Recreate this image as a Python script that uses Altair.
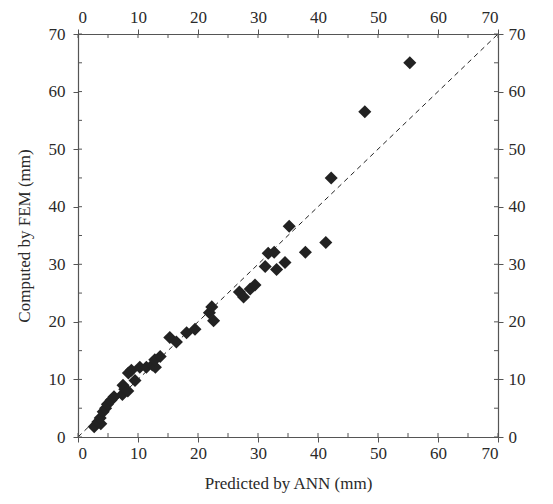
import altair as alt
import pandas as pd

# Predicted by ANN (x) and Computed by FEM (y), in mm
ann = [2.7, 3.3, 3.8, 3.7, 4.2, 4.6, 4.9, 5.5, 6.0, 7.4, 7.8, 7.5, 8.3,
       8.4, 8.9, 9.5, 10.3, 11.4, 12.4, 12.9, 12.8, 13.7,
       15.3, 16.4, 18.1, 19.5, 21.9, 22.3, 22.6, 26.9, 27.6, 28.7, 29.5,
       31.2, 31.7, 32.7, 33.1, 34.5, 35.2, 37.9, 41.3, 42.2, 47.8, 55.3]
fem = [1.8, 2.6, 2.3, 3.3, 4.4, 5.0, 5.7, 6.4, 7.0, 7.4, 8.3, 9.0, 8.0,
       11.1, 11.6, 9.8, 12.1, 12.1, 12.5, 12.1, 13.4, 14.0,
       17.3, 16.5, 18.1, 18.7, 21.6, 22.6, 20.2, 25.2, 24.3, 25.7, 26.4,
       29.6, 31.9, 32.1, 29.1, 30.3, 36.6, 32.1, 33.8, 45.0, 56.5, 65.0]

major_ticks = [0, 10, 20, 30, 40, 50, 60, 70]
inner_ticks = [0, 5, 10, 15, 20, 25, 30, 35, 40, 45, 50, 55, 60, 65, 70]
line_ends = [0, 70]

W, H = 420, 403
FONT = "Liberation Serif"
AX = "#555555"
TXT = "#2a2a2a"

pts = pd.DataFrame({"ann": ann, "fem": fem})
ref = pd.DataFrame({"v": line_ends})
tk = pd.DataFrame({"t": inner_ticks})

xs = alt.Scale(domain=[0, 70], nice=False, zero=False)
ys = alt.Scale(domain=[0, 70], nice=False, zero=False)

common_axis = dict(values=major_ticks, grid=False, domainColor=AX, tickColor=AX,
                   tickSize=5, labelFont=FONT, labelFontSize=17, labelColor=TXT,
                   titleFont=FONT, titleFontSize=17, titleFontWeight="normal",
                   titleColor=TXT, domainWidth=1.2, tickWidth=1)

bottom_left = alt.Chart(pts).mark_point(
    shape="diamond", filled=True, color="#222222", size=170, opacity=1
).encode(
    x=alt.X("ann:Q", scale=xs, axis=alt.Axis(orient="bottom", title="Predicted by ANN (mm)",
                                             labelPadding=3, titlePadding=14, **common_axis)),
    y=alt.Y("fem:Q", scale=ys, axis=alt.Axis(orient="left", title="Computed by FEM (mm)",
                                             labelPadding=8, titlePadding=15, **common_axis)),
)

top_right = alt.Chart(ref).mark_line(
    color="#222222", strokeDash=[5, 4], strokeWidth=1
).encode(
    x=alt.X("v:Q", scale=xs, axis=alt.Axis(orient="top", title=None, labelPadding=3, **common_axis)),
    y=alt.Y("v:Q", scale=ys, axis=alt.Axis(orient="right", title=None, labelPadding=5, **common_axis)),
)

tick_style = dict(color=AX, strokeWidth=1)
t_bottom = alt.Chart(tk).mark_rule(**tick_style).encode(
    x=alt.X("t:Q", scale=xs, axis=None), y=alt.value(H), y2=alt.value(H - 4))
t_top = alt.Chart(tk).mark_rule(**tick_style).encode(
    x=alt.X("t:Q", scale=xs, axis=None), y=alt.value(0), y2=alt.value(4))
t_left = alt.Chart(tk).mark_rule(**tick_style).encode(
    y=alt.Y("t:Q", scale=ys, axis=None), x=alt.value(0), x2=alt.value(4))
t_right = alt.Chart(tk).mark_rule(**tick_style).encode(
    y=alt.Y("t:Q", scale=ys, axis=None), x=alt.value(W), x2=alt.value(W - 4))

chart = alt.layer(
    bottom_left, top_right, t_bottom, t_top, t_left, t_right
).resolve_axis(
    x="independent", y="independent"
).properties(
    width=W, height=H,
    autosize=alt.AutoSizeParams(type="none"),
    padding={"left": 70, "top": 26, "right": 40, "bottom": 60},
).configure_view(stroke=None).configure(background="white")

chart.save("out.html", embed_options={"renderer": "svg", "actions": False})
